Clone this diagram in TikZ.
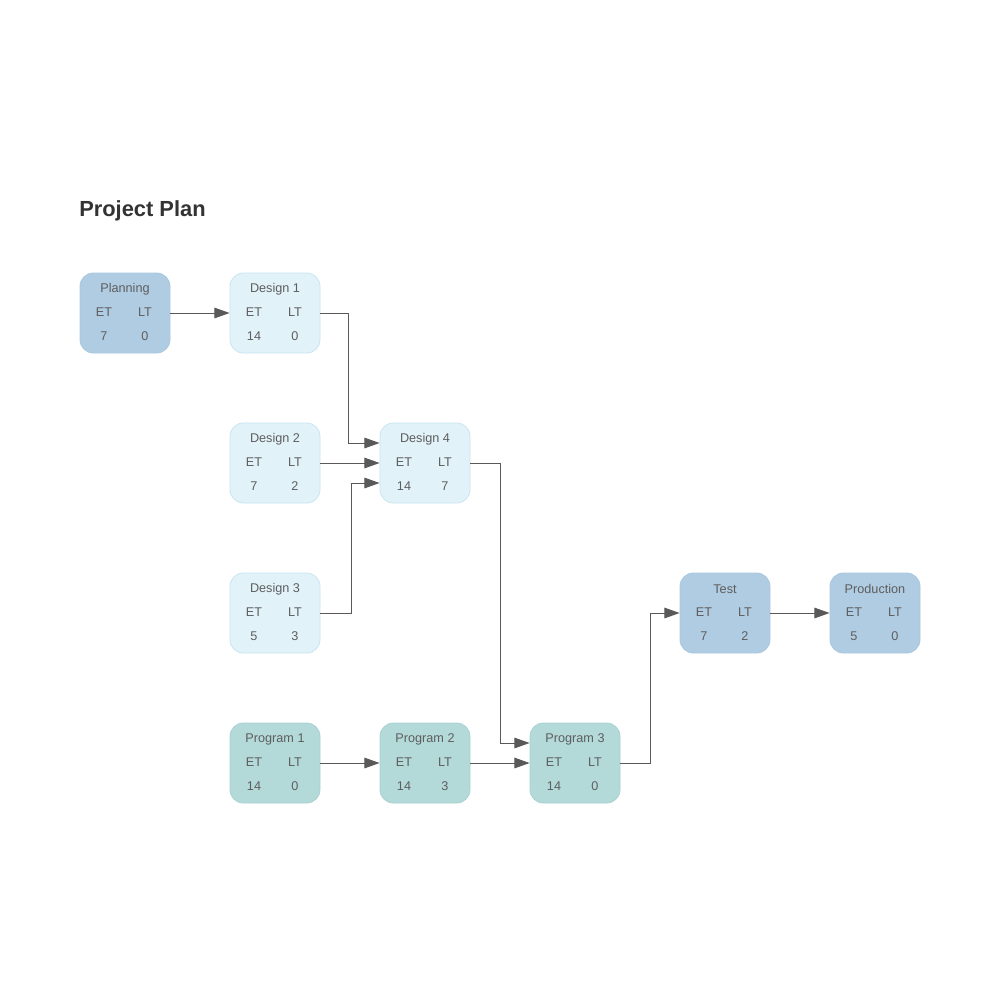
\documentclass[tikz,border=0pt]{standalone}
\usepackage{fontspec}
\setmainfont{Liberation Sans}
\usetikzlibrary{arrows.meta,calc}
\definecolor{darkblue}{HTML}{B0CCE2}
\definecolor{darkblueb}{HTML}{A9C7DE}
\definecolor{lightblue}{HTML}{E1F2F9}
\definecolor{lightblueb}{HTML}{C9E5EF}
\definecolor{teal}{HTML}{B3D9D9}
\definecolor{tealb}{HTML}{A9D2D2}
\definecolor{txt}{HTML}{5E5E5E}
\definecolor{linec}{HTML}{595959}
\definecolor{titlec}{HTML}{333333}
\tikzset{
  box/.style={draw, rounded corners=10pt, minimum width=67.5pt, minimum height=60pt, line width=0.6pt, inner sep=0pt},
  bdark/.style={box, fill=darkblue, draw=darkblueb},
  blight/.style={box, fill=lightblue, draw=lightblueb},
  bteal/.style={box, fill=teal, draw=tealb},
  lbl/.style={text=txt, font=\fontsize{9.5}{11}\selectfont, inner sep=0pt, anchor=center},
  conn/.style={draw=linec, line width=0.75pt, -{Triangle[length=11.5pt,width=8pt]}},
}
\newcommand{\mybox}[7]{%
  \node[#1] (#2) at (#3) {};
  \node[lbl] (#2-t) at ($(#2.center)+(0,-24)$) {#4};
  \node[lbl] (#2-et) at ($(#2.center)+(-21,-1)$) {ET};
  \node[lbl] (#2-lt) at ($(#2.center)+(20,-1)$) {LT};
  \node[lbl] (#2-ev) at ($(#2.center)+(-21,23)$) {#5};
  \node[lbl] (#2-lv) at ($(#2.center)+(20,23)$) {#6};
}
\begin{document}
\begin{tikzpicture}[x=0.75pt, y=-0.75pt]
\useasboundingbox[fill=white] (0,0) rectangle (1000,1000);
\node[anchor=west, text=titlec, font=\fontsize{16.4}{19}\selectfont\bfseries, inner sep=0pt] (title) at (79,211) {Project Plan};

\mybox{bdark}{plan}{125,313}{Planning}{7}{0}{}
\mybox{blight}{d1}{275,313}{Design 1}{14}{0}{}
\mybox{blight}{d2}{275,463}{Design 2}{7}{2}{}
\mybox{blight}{d3}{275,613}{Design 3}{5}{3}{}
\mybox{blight}{d4}{425,463}{Design 4}{14}{7}{}
\mybox{bteal}{p1}{275,763}{Program 1}{14}{0}{}
\mybox{bteal}{p2}{425,763}{Program 2}{14}{3}{}
\mybox{bteal}{p3}{575,763}{Program 3}{14}{0}{}
\mybox{bdark}{test}{725,613}{Test}{7}{2}{}
\mybox{bdark}{prod}{875,613}{Production}{5}{0}{}

\draw[conn] (plan.east) -- (d1.west);
\draw[conn] (d1.east) -- ++(28,0) |- ([yshift=15pt]d4.west);
\draw[conn] (d2.east) -- (d4.west);
\draw[conn] (d3.east) -- ++(31,0) |- ([yshift=-15pt]d4.west);
\draw[conn] (d4.east) -- ++(30,0) |- ([yshift=15pt]p3.west);
\draw[conn] (p1.east) -- (p2.west);
\draw[conn] (p2.east) -- (p3.west);
\draw[conn] (p3.east) -- ++(30,0) |- (test.west);
\draw[conn] (test.east) -- (prod.west);
\end{tikzpicture}
\end{document}
